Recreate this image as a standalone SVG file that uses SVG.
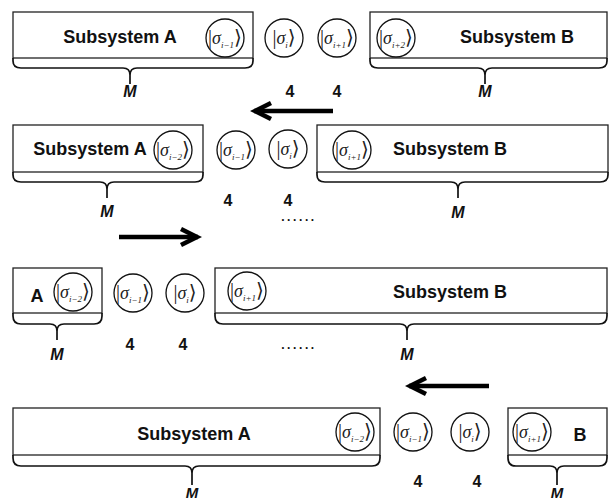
<svg xmlns="http://www.w3.org/2000/svg" width="611" height="501" viewBox="0 0 611 501">
<style>
.box{fill:#fff;stroke:#222;stroke-width:1.3}
.brace{fill:none;stroke:#111;stroke-width:1.7;stroke-linejoin:round}
.q{fill:#fff;stroke:#111;stroke-width:1.3}
.lbl{font-family:"Liberation Sans",Arial,sans-serif;font-weight:bold;font-size:18px;fill:#111;text-anchor:middle}
.m{font-family:"Liberation Sans",Arial,sans-serif;font-weight:bold;font-style:italic;font-size:16px;fill:#111;text-anchor:middle}
.n{font-family:"Liberation Sans",Arial,sans-serif;font-weight:bold;font-size:16px;fill:#111;text-anchor:middle}
.dots{font-family:"Liberation Sans",Arial,sans-serif;font-weight:bold;font-size:12px;letter-spacing:2.6px;fill:#111;text-anchor:middle}
.ket{font-family:"Liberation Serif","DejaVu Serif",serif;font-size:20px;fill:#222;text-anchor:middle}
.sig{font-style:italic;font-size:18px}
.sub{font-style:italic;font-size:9px}
.arr{fill:none;stroke:#000;stroke-width:4.5}
</style>
<defs>
<marker id="head" markerUnits="userSpaceOnUse" viewBox="-22 -12 26 24" refX="0" refY="0" markerWidth="26" markerHeight="24" orient="auto">
<path d="M-17,-8 L-1,0 L-17,8" fill="none" stroke="#000" stroke-width="4.5" stroke-linecap="butt" stroke-linejoin="miter"/>
</marker>
</defs>

<!-- Row 1 -->
<g id="row1-subsystemA">
<rect class="box" x="13" y="12" width="240" height="46"/>
<path class="brace" d="M13,58 V61 Q13,68 21,68 H123 Q130,68 130,75 Q130,68 137,68 H245 Q253,68 253,61 V58 M130,72 V84"/>
<text class="lbl" x="120" y="43">Subsystem A</text>
<circle class="q" cx="225" cy="38" r="19"/>
<text class="ket" x="225" y="44">|<tspan class="sig">σ</tspan><tspan class="sub" dy="4">i−1</tspan><tspan dy="-4">⟩</tspan></text>
<text class="m" x="130" y="97">M</text>
</g>
<g id="row1-site-i">
<circle class="q" cx="284" cy="38" r="19"/>
<text class="ket" x="284" y="44">|<tspan class="sig">σ</tspan><tspan class="sub" dy="4">i</tspan><tspan dy="-4">⟩</tspan></text>
<text class="n" x="290" y="97">4</text>
</g>
<g id="row1-site-i1">
<circle class="q" cx="337" cy="38" r="19"/>
<text class="ket" x="337" y="44">|<tspan class="sig">σ</tspan><tspan class="sub" dy="4">i+1</tspan><tspan dy="-4">⟩</tspan></text>
<text class="n" x="337" y="97">4</text>
</g>
<g id="row1-subsystemB">
<rect class="box" x="370" y="12" width="237" height="46"/>
<path class="brace" d="M370,58 V61 Q370,68 378,68 H478 Q485,68 485,75 Q485,68 492,68 H599 Q607,68 607,61 V58 M485,72 V84"/>
<circle class="q" cx="396" cy="38" r="19"/>
<text class="ket" x="396" y="44">|<tspan class="sig">σ</tspan><tspan class="sub" dy="4">i+2</tspan><tspan dy="-4">⟩</tspan></text>
<text class="lbl" x="517" y="43">Subsystem B</text>
<text class="m" x="485" y="97">M</text>
</g>

<!-- Row 2 -->
<g id="row2-subsystemA">
<rect class="box" x="13" y="125" width="190" height="47"/>
<path class="brace" d="M13,172 V175 Q13,182 21,182 H100 Q107,182 107,189 Q107,182 114,182 H195 Q203,182 203,175 V172 M107,186 V198"/>
<text class="lbl" x="90" y="155">Subsystem A</text>
<circle class="q" cx="173" cy="150" r="19"/>
<text class="ket" x="173" y="156">|<tspan class="sig">σ</tspan><tspan class="sub" dy="4">i−2</tspan><tspan dy="-4">⟩</tspan></text>
<text class="m" x="107" y="217">M</text>
</g>
<g id="row2-site-i-1">
<circle class="q" cx="236" cy="150" r="19"/>
<text class="ket" x="236" y="156">|<tspan class="sig">σ</tspan><tspan class="sub" dy="4">i−1</tspan><tspan dy="-4">⟩</tspan></text>
<text class="n" x="228" y="206">4</text>
</g>
<g id="row2-site-i">
<circle class="q" cx="288" cy="149" r="19"/>
<text class="ket" x="288" y="155">|<tspan class="sig">σ</tspan><tspan class="sub" dy="4">i</tspan><tspan dy="-4">⟩</tspan></text>
<text class="n" x="288" y="206">4</text>
<text class="dots" x="299" y="221">......</text>
</g>
<g id="row2-subsystemB">
<rect class="box" x="317" y="125" width="291" height="47"/>
<path class="brace" d="M317,172 V175 Q317,182 325,182 H451 Q458,182 458,189 Q458,182 465,182 H600 Q608,182 608,175 V172 M458,186 V198"/>
<circle class="q" cx="352" cy="150" r="19"/>
<text class="ket" x="352" y="156">|<tspan class="sig">σ</tspan><tspan class="sub" dy="4">i+1</tspan><tspan dy="-4">⟩</tspan></text>
<text class="lbl" x="450" y="155">Subsystem B</text>
<text class="m" x="458" y="218">M</text>
</g>

<!-- Row 3 -->
<g id="row3-subsystemA">
<rect class="box" x="13" y="268" width="89" height="45"/>
<path class="brace" d="M13,313 V316 Q13,324 21,324 H50 Q57,324 57,331 Q57,324 64,324 H94 Q102,324 102,316 V313 M57,328 V340"/>
<text class="lbl" x="37" y="302">A</text>
<circle class="q" cx="73" cy="292" r="19"/>
<text class="ket" x="73" y="298">|<tspan class="sig">σ</tspan><tspan class="sub" dy="4">i−2</tspan><tspan dy="-4">⟩</tspan></text>
<text class="m" x="57" y="360">M</text>
</g>
<g id="row3-site-i-1">
<circle class="q" cx="133" cy="293" r="19"/>
<text class="ket" x="133" y="299">|<tspan class="sig">σ</tspan><tspan class="sub" dy="4">i−1</tspan><tspan dy="-4">⟩</tspan></text>
<text class="n" x="130" y="350">4</text>
</g>
<g id="row3-site-i">
<circle class="q" cx="185" cy="293" r="19"/>
<text class="ket" x="185" y="299">|<tspan class="sig">σ</tspan><tspan class="sub" dy="4">i</tspan><tspan dy="-4">⟩</tspan></text>
<text class="n" x="183" y="350">4</text>
</g>
<g id="row3-subsystemB">
<rect class="box" x="215" y="268" width="392" height="45"/>
<path class="brace" d="M215,313 V316 Q215,324 223,324 H400 Q407,324 407,331 Q407,324 414,324 H599 Q607,324 607,316 V313 M407,328 V340"/>
<circle class="q" cx="247" cy="291" r="19"/>
<text class="ket" x="247" y="297">|<tspan class="sig">σ</tspan><tspan class="sub" dy="4">i+1</tspan><tspan dy="-4">⟩</tspan></text>
<text class="lbl" x="450" y="298">Subsystem B</text>
<text class="dots" x="299" y="349">......</text>
<text class="m" x="407" y="360">M</text>
</g>

<!-- Row 4 -->
<g id="row4-subsystemA">
<rect class="box" x="13" y="408" width="367" height="47"/>
<path class="brace" d="M13,455 V458 Q13,466 21,466 H185 Q192,466 192,473 Q192,466 199,466 H372 Q380,466 380,458 V455 M192,470 V485"/>
<text class="lbl" x="194" y="440">Subsystem A</text>
<circle class="q" cx="355" cy="432" r="19"/>
<text class="ket" x="355" y="438">|<tspan class="sig">σ</tspan><tspan class="sub" dy="4">i−2</tspan><tspan dy="-4">⟩</tspan></text>
<text class="m" x="192" y="498" style="font-size:15px">M</text>
</g>
<g id="row4-site-i-1">
<circle class="q" cx="413" cy="432" r="19"/>
<text class="ket" x="413" y="438">|<tspan class="sig">σ</tspan><tspan class="sub" dy="4">i−1</tspan><tspan dy="-4">⟩</tspan></text>
<text class="n" x="418" y="487">4</text>
</g>
<g id="row4-site-i">
<circle class="q" cx="470" cy="432" r="19"/>
<text class="ket" x="470" y="438">|<tspan class="sig">σ</tspan><tspan class="sub" dy="4">i</tspan><tspan dy="-4">⟩</tspan></text>
<text class="n" x="477" y="487">4</text>
</g>
<g id="row4-subsystemB">
<rect class="box" x="508" y="408" width="99" height="47"/>
<path class="brace" d="M508,455 V458 Q508,466 516,466 H550 Q557,466 557,473 Q557,466 564,466 H599 Q607,466 607,458 V455 M557,470 V485"/>
<circle class="q" cx="532" cy="432" r="19"/>
<text class="ket" x="532" y="438">|<tspan class="sig">σ</tspan><tspan class="sub" dy="4">i+1</tspan><tspan dy="-4">⟩</tspan></text>
<text class="lbl" x="580" y="441">B</text>
<text class="m" x="557" y="498" style="font-size:15px">M</text>
</g>

<g id="connectors">
<line class="arr" x1="333" y1="111" x2="254" y2="111" marker-end="url(#head)"/>
<line class="arr" x1="119" y1="237" x2="198" y2="237" marker-end="url(#head)"/>
<line class="arr" x1="489" y1="386" x2="409" y2="386" marker-end="url(#head)"/>
</g>
</svg>
